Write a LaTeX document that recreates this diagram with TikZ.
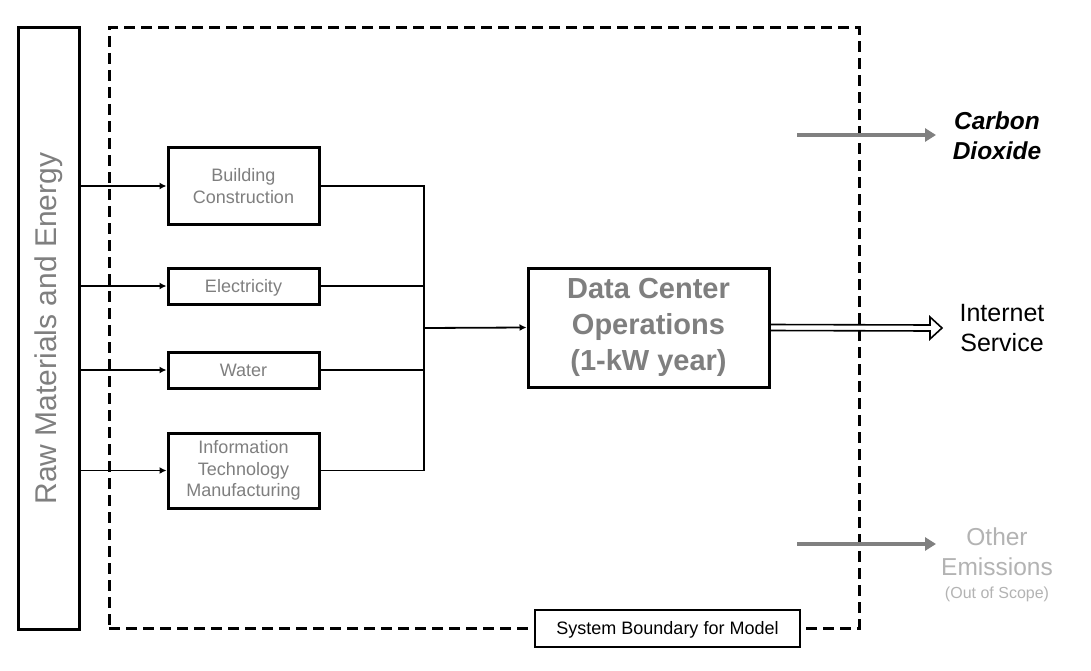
\documentclass[tikz,border=0pt]{standalone}
\usepackage{fontspec}
\setmainfont{Liberation Sans}
\usetikzlibrary{arrows.meta}
\definecolor{txtgray}{HTML}{7F7F7F}
\definecolor{lightgray2}{HTML}{B3B3B3}
\definecolor{arrgray}{HTML}{808080}
\begin{document}
\begin{tikzpicture}[x=1pt,y=-1pt,
  box/.style={draw=black,line width=3pt,inner sep=0pt,align=center,text=txtgray},
  small/.style={font=\fontsize{18}{21.5}\selectfont},
  oneline/.style={text height=12.9pt,text depth=0pt},
  conn/.style={draw=black,line width=1.8pt},
  arr/.style={conn,-{Latex[length=7pt,width=7pt]}},
  grayarr/.style={draw=arrgray,line width=4pt,-{Triangle[length=11pt,width=13pt]}},
  bound/.style={draw=black,line width=3pt,dash pattern=on 11pt off 6pt}
]
\useasboundingbox[fill=white] (0,0) rectangle (1091,671);
% system boundary
\node[bound,minimum width=750pt,minimum height=600pt,inner sep=0pt] (boundary) at (484,328) {};
% raw materials
\node[box,minimum width=61pt,minimum height=601pt] (raw) at (48.5,328.5) {};
\node[rotate=90,text=txtgray,font=\fontsize{30}{36}\selectfont] (rawlbl) at (raw.center) {Raw Materials and Energy};
% inputs
\node[box,small,minimum width=151pt,minimum height=76pt] (bc) at (243.5,186) {Building\\Construction};
\node[box,small,oneline,minimum width=151pt,minimum height=36pt] (el) at (243.5,286) {Electricity};
\node[box,small,oneline,minimum width=151pt,minimum height=36pt] (wa) at (243.5,370) {Water};
\node[box,small,minimum width=151pt,minimum height=75pt] (it) at (243.5,470.5) {Information\\Technology\\Manufacturing};
% data center
\node[box,minimum width=241pt,minimum height=119pt,font=\bfseries\fontsize{29}{36}\selectfont] (dc) at (648.5,327.5) {Data Center\\Operations\\(1-kW year)};
% arrows from raw
\foreach \n in {bc,el,wa,it}{
  \draw[arr] (raw.east |- \n.west) -- (\n.west);
}
\coordinate (bus) at (424,328);
\foreach \n in {bc,el,wa,it}{
  \draw[conn] (\n.east) -| (bus);
}
\draw[arr] (bus) -- (dc.west);
% internet service double arrow
\coordinate (isend) at (942,328);
\draw[black,line width=1.6pt,line join=miter]
  ([yshift=-3pt]dc.east) -- ([xshift=-12pt,yshift=-3pt]isend) -- ([xshift=-12pt,yshift=-11pt]isend) -- (isend)
  -- ([xshift=-12pt,yshift=11pt]isend) -- ([xshift=-12pt,yshift=3pt]isend) -- ([yshift=3pt]dc.east);
\node[align=center,font=\fontsize{25}{30}\selectfont] (inet) at (1002,328) {Internet\\Service};
% carbon dioxide
\coordinate (co2s) at (797,135);
\coordinate (co2e) at (936,135);
\draw[grayarr] (co2s) -- (co2e);
\node[align=center,font=\bfseries\itshape\fontsize{24.5}{30}\selectfont] (co2) at (997,136) {Carbon\\Dioxide};
% other emissions
\coordinate (oes) at (797,544);
\coordinate (oee) at (936,544);
\draw[grayarr] (oes) -- (oee);
\node[align=center,text=lightgray2,font=\fontsize{24.5}{30}\selectfont,anchor=north] (oe) at (997,524) {Other\\Emissions};
\node[text=lightgray2,font=\fontsize{16}{18}\selectfont] (oos) at (997,594) {(Out of Scope)};
% system boundary label
\node[draw=black,line width=2.6pt,fill=white,minimum width=265pt,minimum height=37pt,inner sep=0pt,text height=12.9pt,text depth=0pt,font=\fontsize{18}{20}\selectfont] (sysb) at (667.5,628.5) {System Boundary for Model};
\end{tikzpicture}
\end{document}
